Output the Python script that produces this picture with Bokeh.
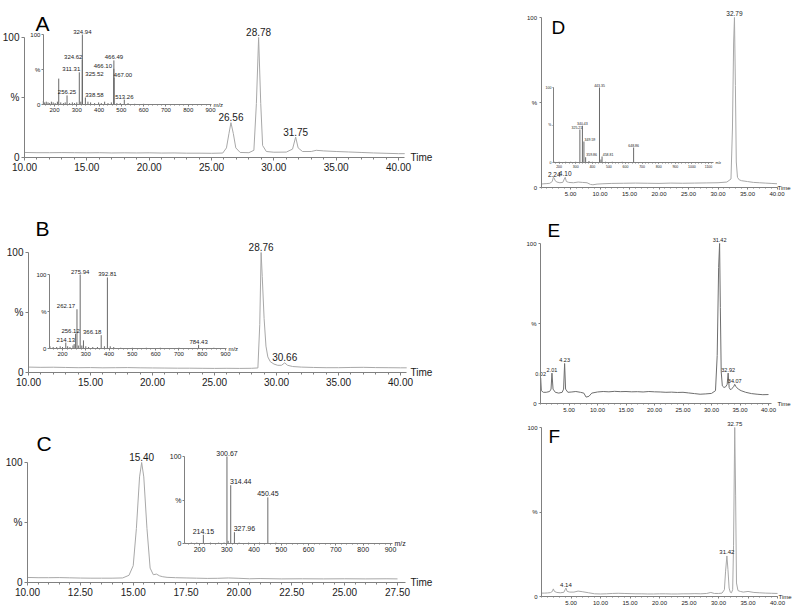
from bokeh.plotting import figure
from bokeh.models import Range1d, LinearAxis, FixedTicker, PrintfTickFormatter, Grid
from bokeh.layouts import row, column
from bokeh.core.properties import value
from bokeh.embed import file_html
from bokeh.resources import INLINE

FONT = "Liberation Sans"

# ---------------- data: chromatograms (time, min / relative intensity, %) ----------------
A_time = [10.0, 11.0, 12.0, 13.0, 14.0, 15.0, 16.0, 17.0, 18.0, 19.0, 20.0, 21.0, 22.0, 23.0, 24.0, 25.0,
          25.9, 26.2, 26.4, 26.56, 26.75, 26.95, 27.3, 28.0, 28.4, 28.6, 28.78, 28.95, 29.1, 29.4, 30.0,
          31.0, 31.5, 31.75, 31.95, 32.3, 33.0, 33.4, 34.0, 35.0, 36.0, 37.0, 38.0, 39.0, 40.0, 40.5]
A_pct = [4.2, 4.0, 4.0, 4.1, 4.0, 3.9, 4.0, 3.8, 3.9, 3.8, 3.9, 3.7, 3.8, 3.6, 3.6, 3.5,
         3.7, 8.0, 20.0, 29.0, 20.0, 8.0, 4.2, 4.0, 6.0, 45.0, 100.0, 45.0, 10.0, 5.0, 4.4,
         4.5, 7.0, 17.0, 8.0, 5.0, 5.0, 6.0, 5.5, 5.0, 4.6, 4.2, 3.8, 3.5, 3.2, 3.2]
A_peaks = [26.56, 28.78, 31.75]

B_time = [10.0, 11.0, 12.0, 13.0, 14.0, 15.0, 16.0, 17.0, 18.0, 19.0, 20.0, 21.0, 22.0, 23.0, 24.0, 25.0,
          26.0, 27.0, 28.0, 28.5, 28.65, 28.76, 28.85, 29.0, 29.15, 29.3, 29.5, 29.8, 30.1, 30.4, 30.66,
          30.9, 31.3, 32.0, 33.0, 34.0, 35.0, 36.0, 37.0, 38.0, 39.0, 40.0, 40.5]
B_pct = [4.5, 4.3, 4.4, 4.2, 4.0, 4.1, 3.9, 4.0, 4.1, 3.9, 3.8, 3.7, 3.6, 3.6, 3.5, 3.4,
         3.5, 3.4, 3.5, 3.8, 40.0, 100.0, 80.0, 45.0, 22.0, 13.0, 9.0, 7.0, 6.0, 6.0, 8.0,
         6.0, 5.0, 4.5, 4.2, 4.0, 4.0, 4.2, 4.3, 4.1, 4.0, 3.9, 3.9]
B_peaks = [28.76, 30.66]

C_time = [10.0, 10.5, 11.0, 11.5, 12.0, 12.5, 13.0, 13.5, 14.0, 14.5, 14.8, 15.0, 15.15, 15.3, 15.4,
          15.5, 15.65, 15.8, 15.95, 16.1, 16.25, 16.4, 16.6, 17.0, 17.5, 18.0, 18.5, 19.0, 19.5, 20.0,
          20.5, 21.0, 22.0, 23.0, 24.0, 25.0, 26.0, 27.0, 27.5]
C_pct = [4.2, 4.0, 4.0, 4.1, 3.9, 3.7, 3.6, 3.6, 3.6, 3.8, 6.0, 14.0, 45.0, 88.0, 100.0,
         88.0, 45.0, 12.0, 6.5, 7.0, 5.5, 4.8, 4.3, 4.0, 3.8, 3.6, 3.4, 3.5, 3.8, 3.5,
         3.1, 3.3, 3.0, 3.1, 3.0, 3.1, 3.0, 3.1, 3.0]
C_peaks = [15.40]

D_time = [0.0, 0.5, 1.0, 1.5, 1.9, 2.1, 2.24, 2.4, 2.7, 3.2, 3.7, 3.95, 4.10, 4.3, 4.7, 5.5, 6.3, 7.0,
          7.8, 8.4, 8.8, 9.5, 10.5, 12.0, 14.0, 16.0, 18.0, 20.0, 22.0, 24.0, 26.0, 28.0, 30.0, 31.5,
          32.2, 32.45, 32.65, 32.79, 32.95, 33.1, 33.3, 33.6, 34.0, 35.0, 36.0, 37.0, 38.0, 39.0, 40.0]
D_pct = [2.0, 2.2, 2.3, 2.5, 3.5, 6.0, 5.5, 4.0, 3.2, 2.8, 3.0, 5.0, 6.0, 3.5, 3.0, 2.8, 3.2, 3.0,
         2.8, 1.8, 1.6, 2.0, 2.2, 2.4, 2.5, 2.6, 2.5, 2.4, 2.6, 2.5, 2.6, 2.7, 2.8, 3.2,
         5.0, 35.0, 85.0, 100.0, 60.0, 15.0, 6.0, 4.5, 4.0, 3.5, 3.0, 2.8, 2.6, 2.4, 2.2]
D_peaks = [2.24, 4.10, 32.79]

E_time = [0.0, 0.02, 0.15, 0.5, 1.0, 1.6, 1.85, 2.01, 2.2, 2.6, 3.2, 3.8, 4.05, 4.23, 4.4, 4.8, 5.5,
          6.2, 7.0, 7.6, 8.0, 8.5, 9.0, 10.0, 11.0, 12.0, 13.0, 14.0, 15.0, 16.0, 17.0, 18.0, 19.0,
          20.0, 21.0, 22.0, 23.0, 24.0, 25.0, 26.0, 27.0, 28.0, 29.0, 30.0, 30.7, 31.0, 31.25, 31.42,
          31.55, 31.7, 31.9, 32.2, 32.5, 32.75, 32.92, 33.1, 33.35, 33.6, 33.9, 34.07, 34.3, 34.7,
          35.2, 36.0, 37.0, 38.0, 39.0, 40.0]
E_pct = [6.0, 16.0, 8.0, 7.0, 7.0, 7.5, 9.0, 19.0, 9.0, 7.0, 6.5, 7.0, 9.0, 25.0, 9.0, 7.0, 7.2,
         7.5, 7.0, 6.5, 4.0, 4.5, 6.5, 7.2, 7.5, 7.3, 7.6, 7.4, 7.5, 7.3, 7.4, 7.2, 7.5,
         7.3, 7.2, 7.0, 7.1, 6.9, 7.0, 6.6, 6.2, 5.8, 6.0, 6.3, 8.0, 30.0, 85.0, 100.0,
         60.0, 20.0, 11.0, 10.0, 10.5, 12.0, 19.0, 10.0, 8.5, 9.5, 10.5, 12.0, 10.5, 9.0,
         8.0, 7.0, 6.2, 5.8, 5.5, 5.6]
E_peaks = [0.02, 2.01, 4.23, 31.42, 32.92, 34.07]

F_time = [0.0, 0.5, 1.0, 1.5, 1.85, 2.0, 2.2, 2.6, 3.2, 3.8, 4.0, 4.14, 4.35, 4.8, 5.5, 6.2, 7.0, 8.0,
          9.0, 10.0, 11.0, 12.0, 13.0, 14.0, 15.0, 16.0, 17.0, 18.0, 19.0, 20.0, 21.0, 22.0, 23.0,
          24.0, 25.0, 26.0, 27.0, 28.0, 28.7, 29.3, 30.0, 30.6, 31.0, 31.2, 31.42, 31.6, 31.8, 32.0,
          32.2, 32.4, 32.55, 32.75, 32.9, 33.05, 33.3, 33.7, 34.2, 35.0, 36.0, 37.0, 38.0, 39.0, 40.0]
F_pct = [2.0, 2.0, 2.1, 2.3, 3.0, 4.5, 3.0, 2.4, 2.2, 2.5, 4.0, 5.0, 3.0, 2.6, 2.6, 3.2, 2.8, 2.2,
         1.6, 1.5, 1.6, 1.8, 1.9, 1.8, 1.7, 1.6, 1.6, 1.5, 1.5, 1.6, 1.6, 1.5, 1.5,
         1.6, 1.6, 1.7, 1.6, 1.8, 2.4, 1.8, 1.8, 2.0, 4.0, 15.0, 24.0, 16.0, 5.0, 2.5,
         2.2, 4.0, 30.0, 100.0, 60.0, 8.0, 3.5, 3.0, 2.6, 3.0, 2.4, 2.2, 2.0, 1.9, 1.8]
F_peaks = [4.14, 31.42, 32.75]

# ---------------- data: inset mass spectra (m/z / relative intensity, %) ----------------
A_ms_mz = [150, 156, 163, 171, 178, 186, 194, 203, 213, 219, 228, 240, 248, 256.25, 268, 280, 290, 300,
           311.31, 318, 324.62, 324.94, 325.52, 338.58, 350, 362, 380, 398, 410, 425, 440, 455,
           466.10, 466.49, 467.00, 480, 495, 513.26, 530, 560, 600]
A_ms_pct = [5, 3, 4, 3, 2, 4, 3, 2, 4, 37, 3, 2, 3, 13, 2, 3, 2, 3,
            46, 4, 64, 100, 40, 10, 4, 3, 2, 3, 2, 4, 2, 3,
            51, 63, 38, 2, 2, 7, 2, 1, 1]
A_ms_peaks = [256.25, 311.31, 324.62, 324.94, 325.52, 338.58, 466.10, 466.49, 467.00, 513.26]

B_ms_mz = [146, 160, 175, 190, 200, 214.13, 222, 232, 245, 250, 256.12, 262.17, 268, 275.94, 283, 290,
           300, 312, 330, 350, 366.18, 380, 392.81, 405, 420, 450, 500, 560, 620, 700, 784.43, 850]
B_ms_pct = [3, 2, 2, 3, 2, 8, 3, 2, 4, 6, 20, 53, 4, 100, 4, 11,
            3, 2, 2, 2, 18, 3, 96, 3, 2, 1, 1, 1, 1, 1, 5, 1]
B_ms_peaks = [214.13, 256.12, 262.17, 275.94, 366.18, 392.81, 784.43]

C_ms_mz = [146, 170, 190, 214.15, 240, 270, 290, 300.67, 305, 314.44, 327.96, 345, 380, 420, 450.45,
           480, 550, 650, 750, 850]
C_ms_pct = [1, 1, 1, 10, 1, 1, 1, 100, 3, 67, 13, 1, 1, 1, 53, 1, 0.5, 0.5, 0.5, 0.5]
C_ms_peaks = [214.15, 300.67, 314.44, 327.96, 450.45]

D_ms_mz = [170, 200, 240, 270, 300, 325.21, 340.43, 349.59, 359.86, 380, 400, 443.35, 452, 458.81,
           480, 520, 580, 648.86, 700, 800, 900, 1000]
D_ms_pct = [1, 1, 1, 1, 1, 44, 49, 28, 7, 2, 1, 100, 4, 8, 1, 1, 1, 20, 0.5, 0.5, 0.5, 0.5]
D_ms_peaks = [325.21, 340.43, 349.59, 359.86, 443.35, 458.81, 648.86]

# ---------------- tick values ----------------
T_TICKS_10_40 = [10, 15, 20, 25, 30, 35, 40]
T_MINOR_10_40 = list(range(10, 41))
T_TICKS_C = [10.0, 12.5, 15.0, 17.5, 20.0, 22.5, 25.0, 27.5]
T_MINOR_C = [10 + 0.5 * i for i in range(36)]
T_TICKS_0_40 = [5, 10, 15, 20, 25, 30, 35, 40]
T_MINOR_0_40 = list(range(0, 41))
MZ_TICKS_900 = [200, 300, 400, 500, 600, 700, 800, 900]
MZ_TICKS_1100 = [200, 300, 400, 500, 600, 700, 800, 900, 1000, 1100]
MZ_MINOR = list(range(160, 1140, 20))
PCT_TICKS = [0, 50, 100]

# ---------------- layout / style (image pixel coordinates) ----------------
AXIS_COL = "#808080"
BAR_COL = "#6a6a6a"
TXT_COL = "#1a1a1a"
TRACE_COL = "#a8a8a8"

PANELS = [
    dict(rect=(0, 0, 520, 185), letter="A", t=A_time, pct=A_pct, peaks=A_peaks,
         xmap=(10, 24, 40, 398), ymap=(157, 37), xb=(10, 40.5), ticks=T_TICKS_10_40, minor=T_MINOR_10_40,
         letter_px=(35, 23), letter_fs="21px", time_px=(410, 157), fs="10px", peak_fs="10px",
         line=TRACE_COL,
         inset=dict(mz=A_ms_mz, pct=A_ms_pct, peaks=A_ms_peaks,
                    nudge={311.31: -8, 324.62: -9, 325.52: 12, 338.58: 9, 466.10: -11, 467.00: 9},
                    xmap=(200, 54, 900, 210), ymap=(104, 34), xb=(150, 904), ticks=MZ_TICKS_900,
                    fs="6px", lab_fs="6px")),
    dict(rect=(0, 185, 520, 390), letter="B", t=B_time, pct=B_pct, peaks=B_peaks,
         xmap=(10, 28, 40, 400), ymap=(372, 252), xb=(10, 40.5), ticks=T_TICKS_10_40, minor=T_MINOR_10_40,
         letter_px=(35, 228), letter_fs="21px", time_px=(410, 372), fs="10px", peak_fs="10px",
         line=TRACE_COL,
         inset=dict(mz=B_ms_mz, pct=B_ms_pct, peaks=B_ms_peaks,
                    nudge={256.12: -5, 262.17: -11, 366.18: -9},
                    xmap=(200, 62, 900, 225), ymap=(348, 274), xb=(144, 904), ticks=MZ_TICKS_900,
                    fs="6px", lab_fs="6px")),
    dict(rect=(0, 390, 520, 611), letter="C", t=C_time, pct=C_pct, peaks=C_peaks,
         xmap=(10, 27, 27.5, 397), ymap=(582, 462), xb=(10, 27.9), ticks=T_TICKS_C, minor=T_MINOR_C,
         letter_px=(36, 443), letter_fs="21px", time_px=(410, 582), fs="10px", peak_fs="10px",
         line=TRACE_COL,
         inset=dict(mz=C_ms_mz, pct=C_ms_pct, peaks=C_ms_peaks,
                    nudge={314.44: 10, 327.96: 10},
                    xmap=(200, 199, 900, 390), ymap=(543, 456), xb=(145, 907), ticks=MZ_TICKS_900,
                    fs="7px", lab_fs="7px")),
    dict(rect=(520, 0, 800, 200), letter="D", t=D_time, pct=D_pct, peaks=D_peaks,
         xmap=(0, 540.5, 40, 776.5), ymap=(187, 17), xb=(0, 40), ticks=T_TICKS_0_40, minor=T_MINOR_0_40,
         letter_px=(551, 27), letter_fs="19px", time_px=(777, 187), fs="6px", peak_fs="6.5px",
         line=TRACE_COL,
         inset=dict(mz=D_ms_mz, pct=D_ms_pct, peaks=D_ms_peaks,
                    nudge={325.21: -3, 349.59: 6, 359.86: 6, 458.81: 6},
                    xmap=(600, 625, 1100, 708), ymap=(162, 87), xb=(166, 1130), ticks=MZ_TICKS_1100,
                    fs="3.5px", lab_fs="3.5px")),
    dict(rect=(520, 200, 800, 412), letter="E", t=E_time, pct=E_pct, peaks=E_peaks,
         xmap=(0, 540, 40, 768), ymap=(403, 243), xb=(0, 40.5), ticks=T_TICKS_0_40, minor=T_MINOR_0_40,
         letter_px=(547, 230), letter_fs="19px", time_px=(777, 403), fs="6px", peak_fs="5.5px",
         line="#6e6e6e", inset=None),
    dict(rect=(520, 412, 800, 611), letter="F", t=F_time, pct=F_pct, peaks=F_peaks,
         xmap=(0, 541, 40, 777), ymap=(596, 427), xb=(0, 40), ticks=T_TICKS_0_40, minor=T_MINOR_0_40,
         letter_px=(548, 436), letter_fs="19px", time_px=(778, 596), fs="6px", peak_fs="6px",
         line=TRACE_COL, inset=None),
]


def lin_range(va, pa, vb, pb, p_lo, p_hi):
    s = (pb - pa) / (vb - va)
    return Range1d(start=va + (p_lo - pa) / s, end=va + (p_hi - pa) / s), s


def style_axis(ax, fs, tick_out=3, minor_out=2):
    ax.axis_line_color = AXIS_COL
    ax.major_tick_line_color = AXIS_COL
    ax.minor_tick_line_color = AXIS_COL
    ax.major_tick_out = tick_out
    ax.major_tick_in = 0
    ax.minor_tick_out = minor_out
    ax.minor_tick_in = 0
    ax.major_label_text_font = FONT
    ax.major_label_text_font_size = fs
    ax.major_label_text_color = TXT_COL
    ax.major_label_standoff = 2


def build(cfg):
    X0, Y0, X1, Y1 = cfg["rect"]
    t0, px0, t1, px1 = cfg["xmap"]
    py0, py100 = cfg["ymap"]
    xr, sx = lin_range(t0, px0, t1, px1, X0, X1)
    yr, sy = lin_range(0, py0, 100, py100, Y1, Y0)
    p = figure(width=X1 - X0, height=Y1 - Y0, x_range=xr, y_range=yr,
               output_backend="svg", toolbar_location=None,
               x_axis_location=None, y_axis_location=None)
    p.min_border_left = p.min_border_right = p.min_border_top = p.min_border_bottom = 0
    p.outline_line_color = None
    p.background_fill_color = "white"
    p.border_fill_color = "white"
    p.center = [r for r in p.center if not isinstance(r, Grid)]

    def px2x(px):
        return t0 + (px - px0) / sx

    def py2y(py):
        return (py - py0) / sy

    # chromatogram trace
    p.line(cfg["t"], cfg["pct"], line_color=cfg["line"], line_width=1)

    big = cfg["fs"] == "10px"
    xa = LinearAxis(fixed_location=0, bounds=cfg["xb"],
                    ticker=FixedTicker(ticks=cfg["ticks"], minor_ticks=cfg["minor"]),
                    formatter=PrintfTickFormatter(format="%.2f"))
    style_axis(xa, cfg["fs"], 3 if big else 2, 2 if big else 1)
    p.add_layout(xa, "below")
    ya = LinearAxis(fixed_location=cfg["xb"][0], bounds=(0, 100),
                    ticker=FixedTicker(ticks=PCT_TICKS, minor_ticks=[]))
    ya.major_label_overrides = {50: "%"}
    style_axis(ya, cfg["fs"], 3 if big else 2, 0)
    p.add_layout(ya, "left")

    # peak labels
    heights = [cfg["pct"][cfg["t"].index(t)] for t in cfg["peaks"]]
    gap = 1.5 / abs(sy)
    p.text(x=cfg["peaks"], y=[h + gap for h in heights], text=[f"{t:.2f}" for t in cfg["peaks"]],
           text_align="center", text_baseline="bottom", text_font=value(FONT),
           text_font_size=cfg["peak_fs"], text_color=TXT_COL)

    # Time label and panel letter
    p.text(x=[px2x(cfg["time_px"][0])], y=[0], text=["Time"], text_align="left",
           text_baseline="middle", text_font=value(FONT), text_font_size=cfg["fs"], text_color=TXT_COL)
    p.text(x=[px2x(cfg["letter_px"][0])], y=[py2y(cfg["letter_px"][1])], text=[cfg["letter"]],
           text_align="left", text_baseline="alphabetic", text_font=value(FONT),
           text_font_size=cfg["letter_fs"], text_color="black")

    ins = cfg["inset"]
    if ins is not None:
        m0, mp0, m1, mp1 = ins["xmap"]
        ip0, ip100 = ins["ymap"]
        mxr, smx = lin_range(m0, mp0, m1, mp1, X0, X1)
        myr, smy = lin_range(0, ip0, 100, ip100, Y1, Y0)
        p.extra_x_ranges = {"ms": mxr}
        p.extra_y_ranges = {"msy": myr}
        p.segment(x0=ins["mz"], y0=[0] * len(ins["mz"]), x1=ins["mz"], y1=ins["pct"],
                  x_range_name="ms", y_range_name="msy", line_color=BAR_COL, line_width=1)
        small = ins["fs"] == "3.5px"
        ixa = LinearAxis(x_range_name="ms", y_range_name="msy", fixed_location=0, bounds=ins["xb"],
                         ticker=FixedTicker(ticks=ins["ticks"],
                                            minor_ticks=[m for m in MZ_MINOR if ins["xb"][0] <= m <= ins["xb"][1]]))
        style_axis(ixa, ins["fs"], 1 if small else 2, 1)
        ixa.major_label_standoff = 1
        p.add_layout(ixa, "below")
        iya = LinearAxis(x_range_name="ms", y_range_name="msy", fixed_location=ins["xb"][0], bounds=(0, 100),
                         ticker=FixedTicker(ticks=PCT_TICKS, minor_ticks=[]))
        iya.major_label_overrides = {50: "%"}
        style_axis(iya, ins["fs"], 1 if small else 2, 0)
        iya.major_label_standoff = 1
        p.add_layout(iya, "left")

        lab_h = [ins["pct"][ins["mz"].index(m)] for m in ins["peaks"]]
        igap = 1.0 / abs(smy)
        p.text(x=ins["peaks"], y=[h + igap for h in lab_h], text=[f"{m:.2f}" for m in ins["peaks"]],
               x_offset=[ins["nudge"].get(m, 0) for m in ins["peaks"]],
               x_range_name="ms", y_range_name="msy",
               text_align="center", text_baseline="bottom", text_font=value(FONT),
               text_font_size=ins["lab_fs"], text_color=TXT_COL)
        p.text(x=[ins["xb"][1]], y=[0], text=["m/z"], x_offset=2,
               x_range_name="ms", y_range_name="msy", text_align="left", text_baseline="middle",
               text_font=value(FONT), text_font_size=ins["fs"], text_color=TXT_COL)
    return p


figs = [build(c) for c in PANELS]
layout = row(column(figs[0], figs[1], figs[2]), column(figs[3], figs[4], figs[5]))

open("out.html", "w").write(file_html(layout, INLINE))
